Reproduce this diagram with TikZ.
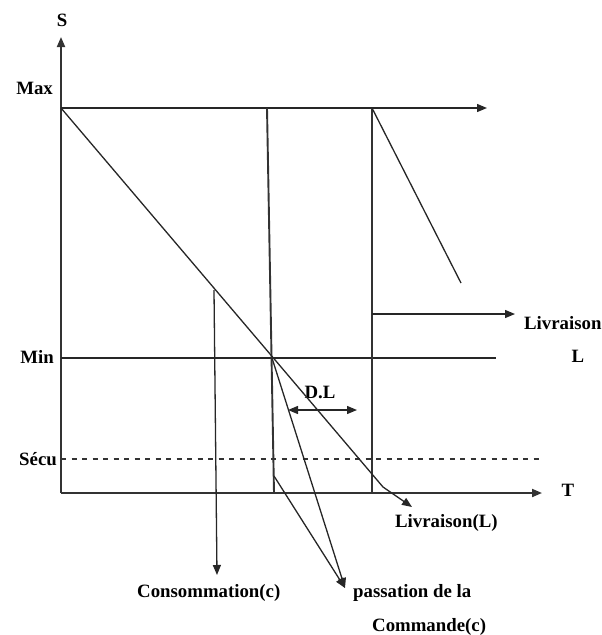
\documentclass[tikz,border=0pt]{standalone}
\usepackage{fontspec}
\setmainfont{Liberation Serif}
\usetikzlibrary{arrows.meta}
\begin{document}
\begin{tikzpicture}[x=1pt,y=-1pt,
  lbl/.style={font=\fontsize{18.8}{21}\selectfont\bfseries, inner sep=0pt},
  thick axis/.style={line width=1.9pt, draw=black!80},
  thin line/.style={line width=1.3pt, draw=black!85},
  tip/.style={-{Triangle[length=10pt,width=8pt]}},
  dtip/.style={{Triangle[length=10pt,width=8pt]}-{Triangle[length=10pt,width=8pt]}},
  dashline/.style={line width=1.2pt, draw=black!80, dash pattern=on 5pt off 5.5pt}]
\useasboundingbox (0,0) rectangle (602,635);
% points
\coordinate (O) at (61,493);
\coordinate (Ytop) at (61,37);
\coordinate (Xend) at (542,493);
\coordinate (MaxA) at (61,108);
\coordinate (MaxB) at (487,108);
\coordinate (V1top) at (267,108);
\coordinate (V1bot) at (274,493);
\coordinate (V1k) at (274,476);
\coordinate (V2top) at (372,108);
\coordinate (V2bot) at (372,493);
\coordinate (Sl) at (461,283);
\coordinate (LivA) at (372,314);
\coordinate (LivB) at (515,314);
\coordinate (MinA) at (61,358);
\coordinate (MinB) at (496,358);
\coordinate (SecA) at (61,459);
\coordinate (SecB) at (542,459);
\coordinate (X) at (272,358);
\coordinate (Dk) at (383,487);
\coordinate (LivL) at (412,507);
\coordinate (ConsA) at (214,290);
\coordinate (ConsB) at (217,575);
\coordinate (Pass) at (345,588);
\coordinate (DLa) at (288,410);
\coordinate (DLb) at (357,410);
% labels
\node[lbl] (S) at (62,20) {S};
\node[lbl, anchor=east] (Max) at (53,88) {Max};
\node[lbl, anchor=east] (Min) at (54,357) {Min};
\node[lbl, anchor=east] (Secu) at (57,459) {Sécu};
\node[lbl] (L) at (578,356) {L};
\node[lbl, anchor=west] (Liv) at (524,323) {Livraison};
\node[lbl] (T) at (568,490) {T};
\node[lbl] (DL) at (320,392) {D.L};
\node[lbl, anchor=west] (LivLlbl) at (395,523) {Livraison(L)};
\node[lbl, anchor=west] (Cons) at (137,593) {Consommation(c)};
\node[lbl, anchor=west] (PassA) at (353,593) {passation de la};
\node[lbl, anchor=west] (PassB) at (372,627) {Commande(c)};
% axes
\draw[thick axis, tip] (O) -- (Ytop);
\draw[thick axis, tip] (O) -- (Xend);
% horizontal lines
\draw[thin line, tip] (MaxA) -- (MaxB);
\draw[thin line] (MinA) -- (MinB);
\draw[dashline] (SecA) -- (SecB);
% verticals
\draw[thick axis] (V1top) -- (V1bot);
\draw[thick axis] (V2top) -- (V2bot);
% consumption slopes
\draw[thin line] (V2top) -- (Sl);
\draw[thin line, tip] (MaxA) -- (Dk) -- (LivL);
% livraison arrow
\draw[thin line, tip] (LivA) -- (LivB);
% consommation arrow
\draw[thin line, tip] (ConsA) -- (ConsB);
% passation arrows
\draw[thin line, tip] (X) -- (Pass);
\draw[thin line, tip] (V1k) -- (Pass);
% D.L
\draw[thin line, dtip] (DLa) -- (DLb);
\end{tikzpicture}
\end{document}
